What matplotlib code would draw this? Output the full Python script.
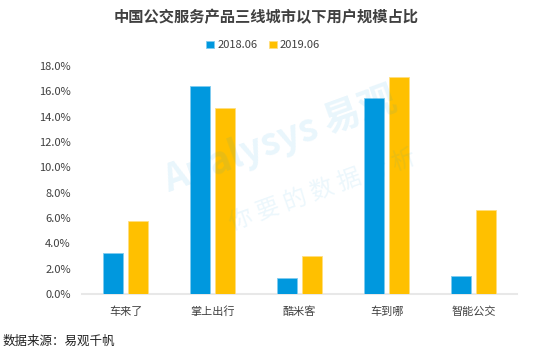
import numpy as np
import matplotlib
matplotlib.use("Agg")
import matplotlib.pyplot as plt
import matplotlib.ticker as mticker

plt.rcParams['font.family'] = ['Noto Sans CJK SC', 'DejaVu Sans']

categories = ["车来了", "掌上出行", "酷米客", "车到哪", "智能公交"]
share_2018 = [3.2, 16.4, 1.3, 15.5, 1.4]   # 2018.06, %
share_2019 = [5.8, 14.7, 3.0, 17.1, 6.6]   # 2019.06, %
series_names = ["2018.06", "2019.06"]

blue = "#0098DE"
yellow = "#FFC000"

fig = plt.figure(figsize=(5.52, 3.54), dpi=100)
ax = fig.add_axes([0.1486, 0.1695, 0.7880, 0.6441])

x = np.arange(len(categories))
w = 0.225
ax.bar(x - 0.143, share_2018, w, color=blue, ec="#7FCBF0", lw=0.6, label=series_names[0], zorder=3)
ax.bar(x + 0.143, share_2019, w, color=yellow, ec="#FFDE80", lw=0.6, label=series_names[1], zorder=3)

ax.set_xlim(-0.5, 4.5)
ax.set_ylim(0, 18)
ax.set_yticks(np.arange(0, 18.1, 2))
ax.yaxis.set_major_formatter(mticker.FormatStrFormatter('%.1f%%'))
ax.set_xticks(x)
ax.set_xticklabels(categories)
ax.tick_params(axis="y", length=0, labelsize=8, colors="#404040", pad=8)
ax.tick_params(axis="x", length=0, labelsize=8, colors="#404040", pad=9)
for s in ["top", "right", "left"]:
    ax.spines[s].set_visible(False)
ax.spines["bottom"].set_color("#E8E8E8")
ax.spines["bottom"].set_linewidth(1.5)

# faint watermark on top of the bars
fig.text(0.507, 0.605, "Analysys 易观", fontsize=27, color=blue, alpha=0.09, rotation=20,
         ha="center", va="center", zorder=10, fontweight="bold", style="italic")
fig.text(0.585, 0.463, "你 要 的 数 据 分 析", fontsize=17, color=blue, alpha=0.08, rotation=20,
         ha="center", va="center", zorder=10)

fig.suptitle("中国公交服务产品三线城市以下用户规模占比", x=0.482, y=0.975,
             fontsize=11, fontweight="bold", color="#404040")
ax.legend(loc="center", bbox_to_anchor=(0.477, 0.872), bbox_transform=fig.transFigure,
          ncol=2, frameon=False, fontsize=8, handlelength=0.7, handleheight=0.7,
          handletextpad=0.3, columnspacing=1.0, labelcolor="#404040")
fig.text(0.004, 0.035, "数据来源：易观千帆", fontsize=9, color="#202020", ha="left", va="center")

fig.savefig("out.png", dpi=100)
